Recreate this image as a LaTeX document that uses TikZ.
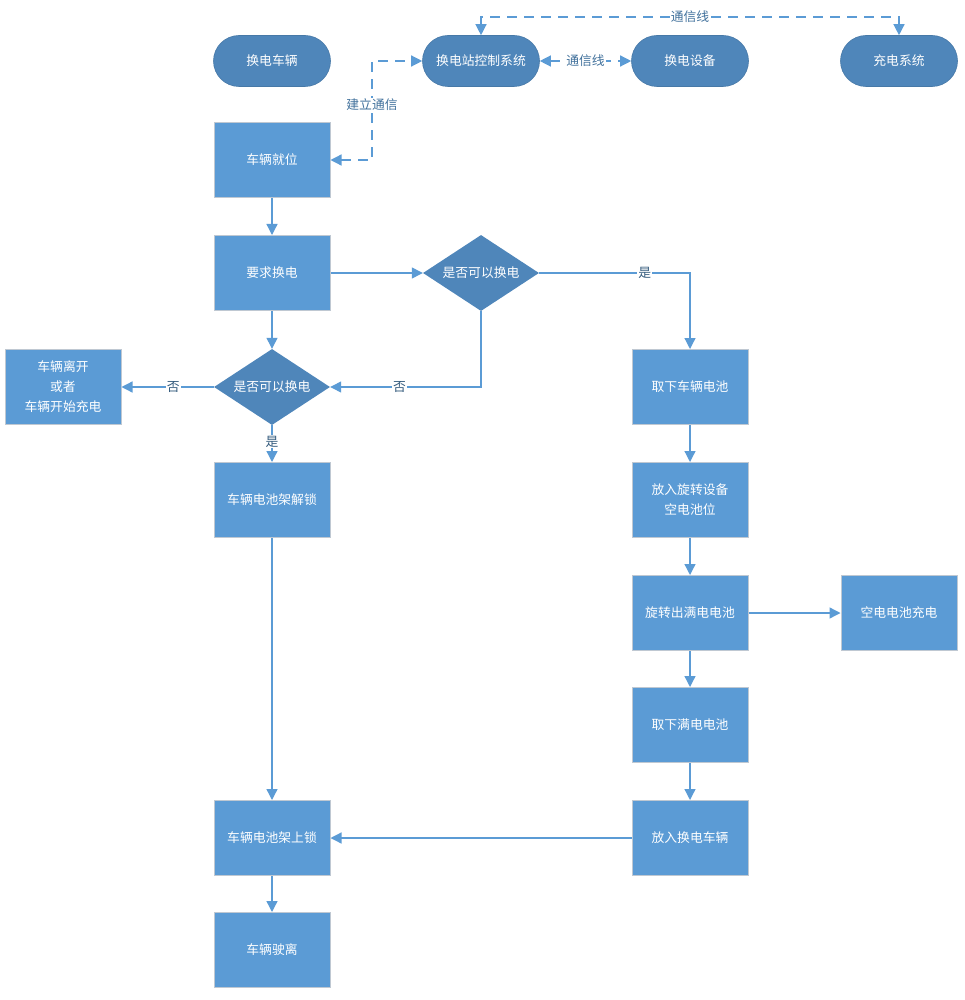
\documentclass[tikz,border=0pt]{standalone}
\usepackage{fontspec}
\setmainfont{Noto Sans CJK SC}
\usetikzlibrary{arrows.meta,shapes.geometric}
\definecolor{boxblue}{HTML}{5B9BD5}
\definecolor{darkblue}{HTML}{4F86BA}
\definecolor{lineblue}{HTML}{5B9BD5}
\definecolor{labblue}{HTML}{41719C}
\definecolor{boxedge}{HTML}{BFC8D2}
\tikzset{
  x=1pt,y=-1pt,
  every node/.style={font=\fontsize{12.8}{20}\selectfont},
  stepbox/.style={draw=boxedge,line width=1pt,fill=boxblue,text=white,minimum width=116pt,minimum height=75pt,align=center,inner sep=0pt},
  pill/.style={draw=darkblue!90!black,line width=0.6pt,fill=darkblue,text=white,minimum width=117pt,minimum height=51pt,rounded corners=25.5pt,inner sep=0pt},
  decide/.style={diamond,fill=darkblue,text=white,minimum width=116pt,minimum height=76pt,inner sep=0pt,aspect=1.53},
  flow/.style={draw=lineblue,line width=1.3pt,-{Triangle[length=11pt,width=11pt]}},
  comm/.style={draw=lineblue,line width=1.3pt,dash pattern=on 10pt off 7pt,{Triangle[length=11pt,width=11pt]}-{Triangle[length=11pt,width=11pt]}},
  lab/.style={fill=white,inner sep=1pt,text=labblue},
}
\begin{document}
\begin{tikzpicture}
\useasboundingbox (0,0) rectangle (965,1000);
% top row pills
\node[pill] (veh) at (272,61) {换电车辆};
\node[pill] (ctrl) at (481,61) {换电站控制系统};
\node[pill] (dev) at (690,61) {换电设备};
\node[pill] (chg) at (899,61) {充电系统};
% left column
\node[stepbox] (ready) at (272,160) {车辆就位};
\node[stepbox] (req) at (272,273) {要求换电};
\node[decide] (d1) at (481,273) {是否可以换电};
\node[decide] (d2) at (272,387) {是否可以换电};
\node[stepbox] (leave) at (63,387) {车辆离开\\或者\\车辆开始充电};
\node[stepbox] (unlock) at (272,500) {车辆电池架解锁};
\node[stepbox] (lock) at (272,838) {车辆电池架上锁};
\node[stepbox] (go) at (272,950) {车辆驶离};
% right column
\node[stepbox] (take) at (690,387) {取下车辆电池};
\node[stepbox] (put) at (690,500) {放入旋转设备\\空电池位};
\node[stepbox] (rot) at (690,613) {旋转出满电电池};
\node[stepbox] (charge) at (899,613) {空电电池充电};
\node[stepbox] (takefull) at (690,725) {取下满电电池};
\node[stepbox] (putveh) at (690,838) {放入换电车辆};
% coordinates
\coordinate (tl) at (481,17);
\coordinate (tr) at (899,17);
\coordinate (bu) at (372,61);
\coordinate (bd) at (372,160);
% dashed communication lines
\draw[comm] (ctrl.north) -- (tl) -- node[lab,pos=0.5]{通信线} (tr) -- (chg.north);
\draw[comm] (ctrl.east) -- node[lab]{通信线} (dev.west);
\draw[comm] (ready.east) -- (bd) -- node[lab,pos=0.56]{建立通信} (bu) -- (ctrl.west);
% solid flow
\draw[flow] (ready) -- (req);
\draw[flow] (req) -- (d1);
\draw[flow] (d1.east) -| node[lab,pos=0.35,text=labblue!80!black]{是} (take.north);
\draw[flow] (d1.south) |- node[lab,pos=0.77,text=labblue!80!black]{否} (d2.east);
\draw[flow] (req) -- (d2);
\draw[flow] (d2.west) -- node[lab,pos=0.44,text=labblue!80!black]{否} (leave.east);
\draw[flow] (d2.south) -- node[lab,pos=0.45,text=labblue!80!black]{是} (unlock.north);
\draw[flow] (unlock) -- (lock);
\draw[flow] (lock) -- (go);
\draw[flow] (take) -- (put);
\draw[flow] (put) -- (rot);
\draw[flow] (rot) -- (charge);
\draw[flow] (rot) -- (takefull);
\draw[flow] (takefull) -- (putveh);
\draw[flow] (putveh) -- (lock);
\end{tikzpicture}
\end{document}
